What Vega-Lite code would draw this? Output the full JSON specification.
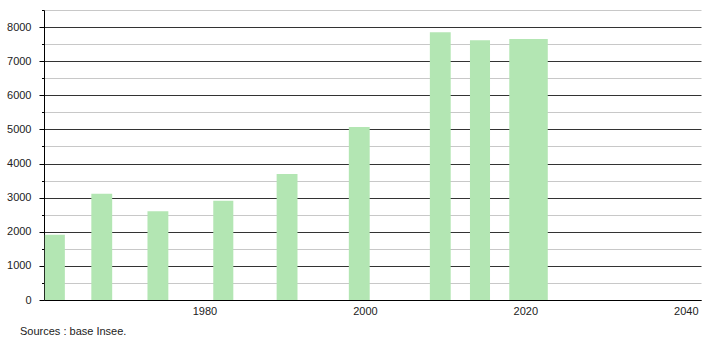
{
  "$schema": "https://vega.github.io/schema/vega-lite/v6.json",
  "width": 657,
  "height": 290,
  "autosize": {"type": "none"},
  "padding": {"left": 44, "top": 10, "right": 9, "bottom": 40},
  "background": "#ffffff",
  "config": {
    "view": {"stroke": null},
    "font": "Liberation Sans"
  },
  "title": {
    "text": "Sources : base Insee.",
    "orient": "bottom",
    "anchor": "start",
    "frame": "group",
    "dx": -24,
    "offset": 10,
    "fontSize": 11,
    "fontWeight": "normal",
    "font": "Liberation Sans",
    "color": "#222222"
  },
  "data": {
    "values": [
      {"start": 1960.1, "end": 1962.6, "population": 1912},
      {"start": 1965.9, "end": 1968.5, "population": 3115},
      {"start": 1972.9, "end": 1975.5, "population": 2600},
      {"start": 1981.1, "end": 1983.6, "population": 2912},
      {"start": 1989.0, "end": 1991.6, "population": 3690},
      {"start": 1998.0, "end": 2000.6, "population": 5068},
      {"start": 2008.1, "end": 2010.7, "population": 7845},
      {"start": 2013.1, "end": 2015.6, "population": 7610},
      {"start": 2018.0, "end": 2022.8, "population": 7647}
    ]
  },
  "mark": {"type": "bar", "color": "#b3e6b3", "orient": "vertical"},
  "encoding": {
    "x": {
      "field": "start",
      "type": "quantitative",
      "scale": {"domain": [1960, 2041.9], "nice": false, "zero": false, "padding": 0},
      "axis": {
        "title": null,
        "values": [1980, 2000, 2020, 2040],
        "format": "d",
        "ticks": false,
        "grid": false,
        "domainColor": "#000000",
        "domainWidth": 1,
        "labelPadding": 5,
        "labelFontSize": 11,
        "labelColor": "#222222",
        "labelFont": "Liberation Sans",
        "labelFlush": false
      }
    },
    "x2": {"field": "end"},
    "y": {
      "field": "population",
      "type": "quantitative",
      "scale": {"domain": [0, 8500], "nice": false, "padding": 0},
      "axis": {
        "title": null,
        "values": [0, 500, 1000, 1500, 2000, 2500, 3000, 3500, 4000, 4500, 5000, 5500, 6000, 6500, 7000, 7500, 8000, 8500],
        "labelExpr": "datum.value % 1000 === 0 ? datum.label : ''",
        "format": "d",
        "grid": true,
        "gridColor": {"condition": {"test": "datum.value % 1000 === 0", "value": "#333333"}, "value": "#c8c8c8"},
        "gridWidth": 1,
        "gridOpacity": 1,
        "domainColor": "#000000",
        "tickColor": "#000000",
        "tickSize": {"condition": {"test": "datum.value % 1000 === 0", "value": 5}, "value": 2.5},
        "labelPadding": 8,
        "labelFontSize": 11,
        "labelColor": "#222222",
        "labelFont": "Liberation Sans",
        "labelFlush": false
      }
    },
    "y2": {"datum": 0}
  }
}
